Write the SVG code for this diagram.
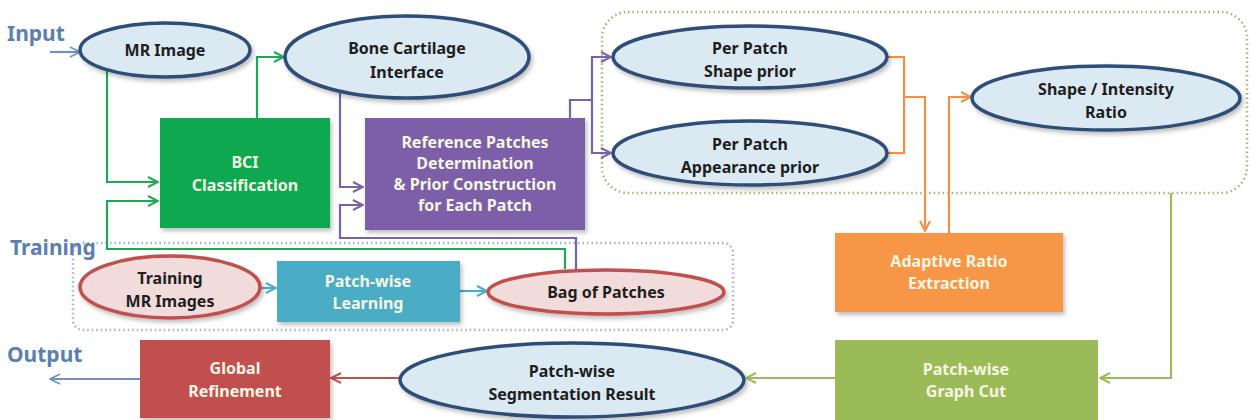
<svg xmlns="http://www.w3.org/2000/svg" width="1251" height="420" viewBox="0 0 1251 420">
<defs>
<style>
text{font-family:"Noto Sans","Liberation Sans",sans-serif;font-weight:bold;text-anchor:middle}
.lbl{font-size:21px;fill:#5b7fb0;text-anchor:start}
.et{font-size:16px;fill:#1e1e1e}
.bt{font-size:16px;fill:#f6f6e4}
.ell{fill:#dbe9f3;stroke:#2f4d78;stroke-width:3.5}
.pell{fill:#f2dcdb;stroke:#c0504d;stroke-width:3.5}
.c{fill:none;stroke-width:2.2}
.g{stroke:#1ea855}.p{stroke:#7a62a8}.o{stroke:#f58f45}.ol{stroke:#9bbb59}.r{stroke:#c0504d}.b{stroke:#4bacc6}.sb{stroke:#7090c0}
</style>
<filter id="sh" x="-10%" y="-10%" width="130%" height="140%"><feDropShadow dx="2" dy="3" stdDeviation="2" flood-color="#000" flood-opacity="0.25"/></filter>
<marker id="ag" viewBox="0 0 12 12" refX="11" refY="6" markerWidth="12" markerHeight="12" markerUnits="userSpaceOnUse" orient="auto"><path d="M1,1 L11,6 L1,11" fill="none" stroke="#1ea855" stroke-width="2"/></marker>
<marker id="ap" viewBox="0 0 12 12" refX="11" refY="6" markerWidth="12" markerHeight="12" markerUnits="userSpaceOnUse" orient="auto"><path d="M1,1 L11,6 L1,11" fill="none" stroke="#7a62a8" stroke-width="2"/></marker>
<marker id="ao" viewBox="0 0 12 12" refX="11" refY="6" markerWidth="12" markerHeight="12" markerUnits="userSpaceOnUse" orient="auto"><path d="M1,1 L11,6 L1,11" fill="none" stroke="#f58f45" stroke-width="2"/></marker>
<marker id="aol" viewBox="0 0 12 12" refX="11" refY="6" markerWidth="12" markerHeight="12" markerUnits="userSpaceOnUse" orient="auto"><path d="M1,1 L11,6 L1,11" fill="none" stroke="#9bbb59" stroke-width="2"/></marker>
<marker id="ar" viewBox="0 0 12 12" refX="11" refY="6" markerWidth="12" markerHeight="12" markerUnits="userSpaceOnUse" orient="auto"><path d="M1,1 L11,6 L1,11" fill="none" stroke="#c0504d" stroke-width="2"/></marker>
<marker id="ab" viewBox="0 0 12 12" refX="11" refY="6" markerWidth="12" markerHeight="12" markerUnits="userSpaceOnUse" orient="auto"><path d="M1,1 L11,6 L1,11" fill="none" stroke="#4bacc6" stroke-width="2"/></marker>
<marker id="asb" viewBox="0 0 12 12" refX="11" refY="6" markerWidth="12" markerHeight="12" markerUnits="userSpaceOnUse" orient="auto"><path d="M1,1 L11,6 L1,11" fill="none" stroke="#7090c0" stroke-width="1.6"/></marker>
</defs>
<rect width="1251" height="420" fill="#ffffff"/>

<g id="groups">
<rect x="602" y="12" width="645" height="181" rx="26" fill="none" stroke="#a4b870" stroke-width="2.5" stroke-dasharray="1.5 3"/>
<rect x="73" y="243" width="660" height="87" rx="10" fill="none" stroke="#a8b0cc" stroke-width="2.5" stroke-dasharray="1.5 3"/>
</g>

<g id="labels">
<text class="lbl" x="7" y="41">Input</text>
<text class="lbl" x="10" y="255">Training</text>
<text class="lbl" x="7" y="362">Output</text>
</g>

<g id="connectors">
<path class="c sb" d="M50,52 H80" marker-end="url(#asb)"/>
<path class="c g" d="M107,70 V182 H158" marker-end="url(#ag)"/>
<path class="c g" d="M565,269 V249 H107 V201 H158" marker-end="url(#ag)"/>
<path class="c g" d="M257,118 V57 H284" marker-end="url(#ag)"/>
<path class="c p" d="M340,92 V187 H363" marker-end="url(#ap)"/>
<path class="c p" d="M576,270 V238 H340 V205 H363" marker-end="url(#ap)"/>
<path class="c p" d="M570,118 V100 H592"/>
<path class="c p" d="M592,100 V57 H611" marker-end="url(#ap)"/>
<path class="c p" d="M592,100 V153 H611" marker-end="url(#ap)"/>
<path class="c o" d="M887,57 H904 V153 H887"/>
<path class="c o" d="M904,97 H925 V231" marker-end="url(#ao)"/>
<path class="c o" d="M949,233 V97 H971" marker-end="url(#ao)"/>
<path class="c ol" d="M1171,193 V378 H1100" marker-end="url(#aol)"/>
<path class="c ol" d="M835,378 H746" marker-end="url(#aol)"/>
<path class="c r" d="M400,378 H331" marker-end="url(#ar)"/>
<path class="c sb" d="M140,379 H50" marker-end="url(#asb)"/>
<path class="c b" d="M260,288 H276" marker-end="url(#ab)"/>
<path class="c b" d="M460,291 H487" marker-end="url(#ab)"/>
</g>

<g id="mr-image">
<ellipse class="ell" cx="165" cy="50" rx="85" ry="27" filter="url(#sh)"/>
<text class="et" x="165" y="56">MR Image</text>
</g>
<g id="bone-cartilage">
<ellipse class="ell" cx="407" cy="57" rx="122" ry="41" filter="url(#sh)"/>
<text class="et" x="407" y="54">Bone Cartilage</text>
<text class="et" x="407" y="78">Interface</text>
</g>
<g id="bci">
<rect x="160" y="118" width="170" height="110" fill="#0aa84f" filter="url(#sh)"/>
<text class="bt" x="245" y="168">BCI</text>
<text class="bt" x="245" y="191">Classification</text>
</g>
<g id="reference">
<rect x="365" y="118" width="220" height="112" fill="#7b5fa8" filter="url(#sh)"/>
<text class="bt" x="475" y="148">Reference Patches</text>
<text class="bt" x="475" y="169">Determination</text>
<text class="bt" x="475" y="190">&amp; Prior Construction</text>
<text class="bt" x="475" y="211">for Each Patch</text>
</g>
<g id="shape-prior">
<ellipse class="ell" cx="750" cy="57" rx="137" ry="31" filter="url(#sh)"/>
<text class="et" x="750" y="54">Per Patch</text>
<text class="et" x="750" y="77">Shape prior</text>
</g>
<g id="appearance-prior">
<ellipse class="ell" cx="750" cy="153" rx="137" ry="32" filter="url(#sh)"/>
<text class="et" x="750" y="150">Per Patch</text>
<text class="et" x="750" y="173">Appearance prior</text>
</g>
<g id="ratio">
<ellipse class="ell" cx="1106" cy="98" rx="134" ry="32" filter="url(#sh)"/>
<text class="et" x="1106" y="95">Shape / Intensity</text>
<text class="et" x="1106" y="118">Ratio</text>
</g>
<g id="adaptive">
<rect x="835" y="233" width="228" height="79" fill="#f79646" filter="url(#sh)"/>
<text class="bt" x="949" y="267">Adaptive Ratio</text>
<text class="bt" x="949" y="289">Extraction</text>
</g>
<g id="graph-cut">
<rect x="835" y="340" width="263" height="80" fill="#9bbb59"/>
<text class="bt" x="966" y="375">Patch-wise</text>
<text class="bt" x="966" y="397">Graph Cut</text>
</g>
<g id="segmentation">
<ellipse class="ell" cx="572" cy="380" rx="172" ry="37" filter="url(#sh)"/>
<text class="et" x="572" y="377">Patch-wise</text>
<text class="et" x="572" y="400">Segmentation Result</text>
</g>
<g id="global">
<rect x="140" y="340" width="190" height="78" fill="#c0504d" filter="url(#sh)"/>
<text class="bt" x="235" y="374">Global</text>
<text class="bt" x="235" y="397">Refinement</text>
</g>
<g id="training-images">
<ellipse class="pell" cx="170" cy="287" rx="90" ry="31" filter="url(#sh)"/>
<text class="et" x="170" y="284">Training</text>
<text class="et" x="170" y="307">MR Images</text>
</g>
<g id="learning">
<rect x="277" y="261" width="183" height="61" fill="#4bacc6" filter="url(#sh)"/>
<text class="bt" x="368" y="287">Patch-wise</text>
<text class="bt" x="368" y="309">Learning</text>
</g>
<g id="bag">
<ellipse class="pell" cx="606" cy="292" rx="118" ry="22" filter="url(#sh)"/>
<text class="et" x="606" y="298">Bag of Patches</text>
</g>
</svg>
